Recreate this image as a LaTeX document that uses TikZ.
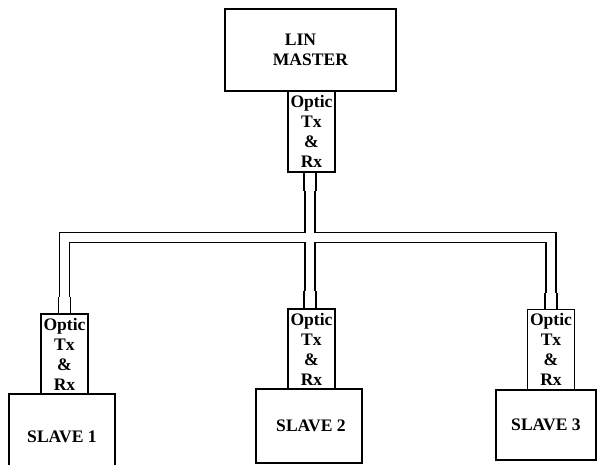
\documentclass[tikz,border=0pt]{standalone}
\usepackage{fontspec}
\setmainfont{Liberation Serif}
\begin{document}
\begin{tikzpicture}[
    x=0.025cm, y=-0.025cm,
    box/.style={rectangle, draw, line width=0.8pt, inner sep=0pt, align=center,
        font=\fontsize{12.5}{14.2}\selectfont\bfseries},
    optic/.style={box, minimum width=1.175cm, minimum height=2cm},
    fiber/.style={draw, line width=1pt, double=white, double distance=0.21cm},
    plug/.style={fiber, double distance=0.26cm}
]
\clip (0,0) rectangle (597,465);

% Master
\node[box, minimum width=4.275cm, minimum height=2.05cm, align=left] (master) at (310.5,50) {\hspace*{0.3cm}LIN\\MASTER};
\node[optic, minimum height=2.025cm] (optM) at (311.5,131.5) {Optic\\Tx\\\&\\Rx};

% Slaves
\node[box, minimum width=2.65cm, minimum height=2.15cm] (slave1) at (62,437) {SLAVE 1};
\node[box, minimum width=2.65cm, minimum height=1.85cm] (slave2) at (309,426) {\hspace*{0.1cm}SLAVE 2};
\node[box, minimum width=2.5cm, minimum height=1.75cm] (slave3) at (546,425) {SLAVE 3};
\node[optic] (optA) at (64.5,354) {Optic\\Tx\\\&\\Rx};
\node[optic] (optB) at (311.5,349) {Optic\\Tx\\\&\\Rx};
\node[optic] (optC) at (551,349.5) {Optic\\Tx\\\&\\Rx};

% Fibers
\coordinate (hub) at (310,237.5);
\draw[fiber] (optA.north) |- (hub) -| (optC.north)
    (optM.south -| hub) -- (optB.north -| hub);

% Plugs
\draw[plug] (optA.north) -- ++(0,-16);
\draw[plug] (optC.north) -- ++(0,-16);
\draw[plug] (optB.north -| hub) -- ++(0,-17);
\draw[plug] (optM.south -| hub) -- ++(0,18);
\end{tikzpicture}
\end{document}
